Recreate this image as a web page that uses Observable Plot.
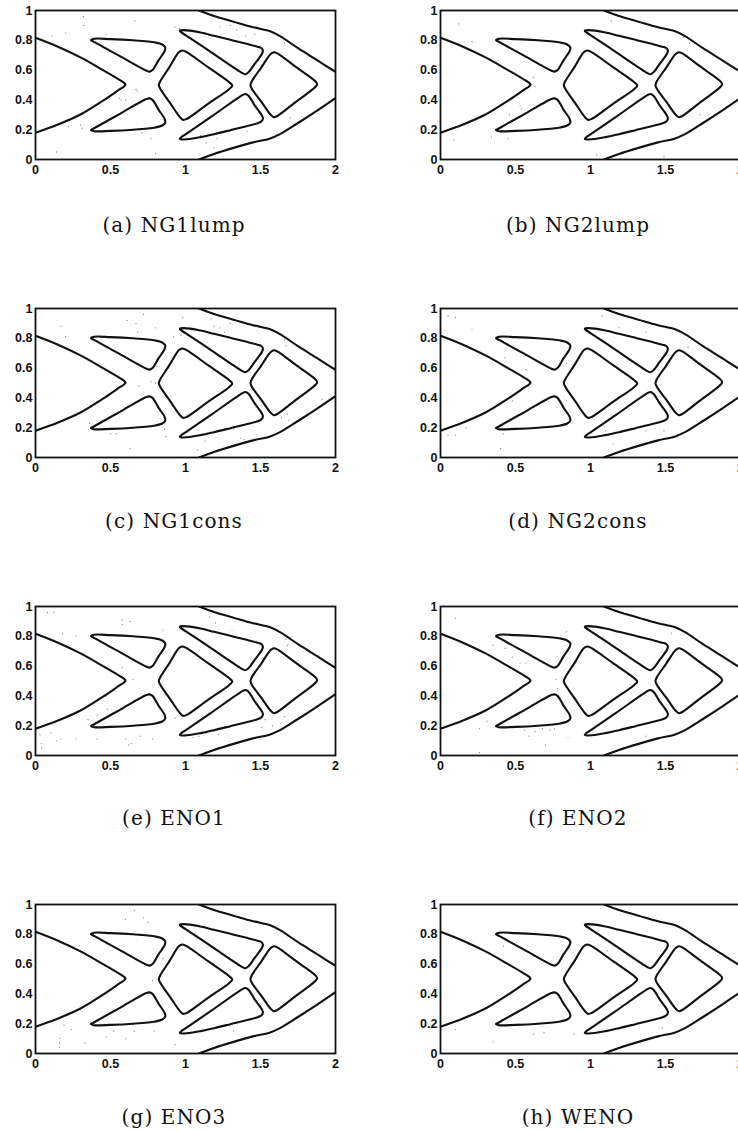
<!DOCTYPE html>
<html>
<head>
<meta charset="utf-8">
<script src="https://cdn.jsdelivr.net/npm/d3@7"></script>
<script src="https://cdn.jsdelivr.net/npm/@observablehq/plot@0.6"></script>
<style>
html, body { margin: 0; padding: 0; background: #fff; }
#page { position: relative; width: 738px; height: 1131px; overflow: hidden; background: #fff; }
.panel { position: absolute; width: 345px; height: 184px; }
.panel svg { max-width: none !important; }
.cap { position: absolute; font-family: "DejaVu Serif", "Liberation Serif", serif; font-size: 20px; letter-spacing: 1.1px;
       color: #111; white-space: nowrap; transform: translate(-50%, -50%); line-height: 1; }
</style>
</head>
<body>
<div id="page"></div>
<script>
// ---- axis ticks ----
const xTicks = [0, 0.5, 1, 1.5, 2];
const xTickLabels = ["0", "0.5", "1", "1.5", "2"];
const yTicks = [0, 0.2, 0.4, 0.6, 0.8, 1];
const yTickLabels = ["0", "0.2", "0.4", "0.6", "0.8", "1"];

// ---- panel captions ----
const panelLabels = ["(a) NG1lump", "(b) NG2lump", "(c) NG1cons", "(d) NG2cons",
                     "(e) ENO1", "(f) ENO2", "(g) ENO3", "(h) WENO"];

// ---- zero level-set contours (x, y in domain units) ----
const leftBranch = [[0,0.817],[0.15,0.757],[0.30,0.685],[0.45,0.60],[0.56,0.535],[0.59,0.515],[0.60,0.503],[0.59,0.49],[0.56,0.47],[0.45,0.395],[0.30,0.302],[0.15,0.235],[0,0.18]];
const topBranch = [[1.09,1.0],[1.19,0.963],[1.32,0.925],[1.45,0.888],[1.56,0.862],[1.63,0.828],[1.75,0.747],[1.88,0.665],[2.0,0.588]];
const bottomBranch = [[1.09,0.0],[1.19,0.037],[1.32,0.078],[1.45,0.115],[1.56,0.14],[1.63,0.17],[1.75,0.245],[1.88,0.33],[2.0,0.412]];
const holeUL = [[0.37,0.80],[0.39,0.81],[0.50,0.808],[0.65,0.80],[0.80,0.785],[0.845,0.772],[0.865,0.752],[0.862,0.73],[0.82,0.665],[0.78,0.60],[0.762,0.59],[0.74,0.596],[0.56,0.695],[0.40,0.784],[0.38,0.795]];
const holeLL = [[0.37,0.198],[0.39,0.19],[0.50,0.192],[0.65,0.20],[0.80,0.215],[0.845,0.228],[0.865,0.248],[0.862,0.27],[0.82,0.335],[0.78,0.40],[0.758,0.41],[0.735,0.404],[0.56,0.305],[0.40,0.215],[0.38,0.203]];
const holeCenter = [[0.955,0.72],[0.978,0.732],[1.005,0.722],[1.148,0.621],[1.29,0.52],[1.312,0.497],[1.29,0.472],[1.15,0.373],[1.01,0.273],[0.985,0.266],[0.965,0.282],[0.898,0.378],[0.832,0.475],[0.822,0.50],[0.832,0.525],[0.894,0.622]];
const holeUR = [[0.99,0.868],[1.10,0.852],[1.19,0.83],[1.30,0.803],[1.40,0.778],[1.48,0.757],[1.505,0.748],[1.516,0.73],[1.51,0.71],[1.46,0.64],[1.42,0.585],[1.40,0.572],[1.38,0.58],[1.17,0.721],[1.00,0.835],[0.97,0.855],[0.962,0.864]];
const holeLR = [[0.99,0.134],[1.10,0.15],[1.19,0.17],[1.30,0.197],[1.40,0.222],[1.48,0.243],[1.505,0.255],[1.516,0.275],[1.51,0.295],[1.46,0.365],[1.42,0.428],[1.40,0.44],[1.38,0.432],[1.17,0.286],[1.00,0.169],[0.97,0.148],[0.962,0.138]];
const holeRight = [[1.568,0.708],[1.59,0.72],[1.612,0.712],[1.736,0.621],[1.86,0.53],[1.878,0.505],[1.86,0.482],[1.736,0.387],[1.612,0.292],[1.59,0.284],[1.57,0.298],[1.506,0.387],[1.442,0.475],[1.433,0.50],[1.442,0.525],[1.505,0.617]];

const openCurves = [leftBranch, topBranch, bottomBranch];
const closedCurves = [holeUL, holeLL, holeCenter, holeUR, holeLR, holeRight];

// ---- stray specks seen in each panel ----
const specksA = [[0.11,0.83],[0.20,0.85],[0.32,0.96],[0.32,0.90],[0.47,0.84],[0.66,0.93],[0.30,0.23],[0.31,0.21],[0.22,0.22],[0.56,0.41],[0.57,0.40],[0.60,0.40],[0.67,0.47],[0.68,0.46],[0.93,0.89],[0.96,0.88],[1.23,0.89],[1.30,0.90],[1.34,0.87],[1.40,0.83],[1.46,0.84],[1.14,0.11],[1.19,0.08],[1.21,0.14],[1.10,0.16],[0.71,0.18],[0.77,0.14],[0.80,0.04],[0.14,0.05],[1.66,0.78],[1.70,0.28],[1.41,0.19],[1.59,0.28]];
const specksB = [[0.12,0.91],[0.21,0.79],[0.62,0.55],[0.63,0.49],[0.53,0.36],[0.54,0.34],[0.46,0.30],[0.34,0.15],[0.09,0.13],[0.45,0.14],[1.14,0.93],[1.62,0.82],[1.66,0.78],[1.73,0.30],[1.04,0.03],[1.49,0.02]];
const specksC = [[0.17,0.88],[0.20,0.81],[0.61,0.92],[0.67,0.90],[0.72,0.96],[0.68,0.84],[0.80,0.87],[0.92,0.81],[0.97,0.82],[0.98,0.94],[1.17,0.93],[1.19,0.88],[1.23,0.87],[1.26,0.84],[1.30,0.90],[1.46,0.88],[1.66,0.79],[1.67,0.75],[0.77,0.51],[0.80,0.50],[0.81,0.61],[0.69,0.48],[0.63,0.06],[0.54,0.16],[0.50,0.16],[0.36,0.23],[0.86,0.19],[0.87,0.14],[1.01,0.17],[1.13,0.11],[1.32,0.19],[1.37,0.13],[1.39,0.12],[1.64,0.27],[1.68,0.29],[1.69,0.25],[1.91,0.39],[1.08,0.05]];
const specksD = [[0.05,0.95],[0.10,0.94],[0.21,0.86],[0.43,0.67],[0.48,0.38],[0.57,0.59],[0.84,0.63],[0.84,0.38],[1.08,0.95],[1.19,0.87],[1.37,0.84],[1.65,0.74],[1.49,0.18],[1.37,0.18],[1.10,0.18],[1.15,0.09],[0.98,0.16],[0.42,0.16],[0.40,0.06],[0.10,0.15],[0.05,0.15],[0.17,0.20]];
const specksE = [[0.08,0.96],[0.12,0.96],[0.58,0.91],[0.58,0.88],[0.63,0.90],[0.18,0.82],[0.27,0.80],[0.85,0.84],[0.58,0.59],[0.65,0.51],[0.47,0.40],[0.48,0.31],[0.41,0.27],[0.35,0.24],[0.03,0.14],[0.04,0.08],[0.04,0.05],[0.10,0.15],[0.14,0.10],[0.17,0.11],[0.27,0.11],[0.41,0.11],[0.60,0.11],[0.62,0.07],[0.64,0.08],[0.70,0.13],[0.78,0.11],[0.93,0.25],[1.00,0.13],[1.05,0.12],[1.09,0.13],[1.14,0.15],[1.22,0.14],[1.16,0.93],[1.20,0.89],[1.31,0.84],[1.67,0.78],[1.68,0.74],[1.53,0.24],[1.51,0.19],[1.58,0.20],[1.66,0.26]];
const specksF = [[0.10,0.92],[0.35,0.74],[0.43,0.72],[0.48,0.66],[0.53,0.62],[0.57,0.62],[0.77,0.51],[0.78,0.45],[0.84,0.83],[0.31,0.23],[0.26,0.18],[0.56,0.17],[0.59,0.13],[0.63,0.16],[0.68,0.18],[0.73,0.17],[0.76,0.18],[0.70,0.07],[0.85,0.12],[1.37,0.13],[1.54,0.82],[0.26,0.02]];
const specksG = [[0.60,0.90],[0.66,0.96],[0.72,0.91],[0.75,0.88],[0.29,0.72],[0.19,0.19],[0.24,0.16],[0.16,0.10],[0.16,0.07],[0.16,0.04],[0.33,0.07],[0.47,0.11],[0.52,0.15],[0.60,0.10],[0.66,0.15],[0.79,0.15],[0.93,0.06],[1.32,0.15],[0.85,0.64],[0.78,0.49],[1.30,0.56]];
const specksH = [[0.10,0.16],[0.35,0.08],[0.62,0.13],[0.69,0.14],[0.89,0.13],[1.11,0.69],[1.48,0.17],[0.42,0.72]];
const panelSpecks = [specksA, specksB, specksC, specksD, specksE, specksF, specksG, specksH];

// ---- layout ----
const colLeft = [0, 405];
const rowTop = [0, 298, 596, 894];
const capX = [174, 578];
const capY = [225, 521, 818, 1117];

const page = document.getElementById("page");

function makePanel(specks) {
  const marks = [
    Plot.dot(specks, {x: d => d[0], y: d => d[1], r: 0.7, fill: "#777", fillOpacity: 0.8, stroke: null}),
    ...openCurves.map(c => Plot.line(c, {x: d => d[0], y: d => d[1], stroke: "#111", strokeWidth: 2.1, curve: "catmull-rom", clip: true})),
    ...closedCurves.map(c => Plot.line(c, {x: d => d[0], y: d => d[1], stroke: "#111", strokeWidth: 2.1, curve: "catmull-rom-closed", clip: true})),
    Plot.frame({stroke: "#111", strokeWidth: 1.8}),
    Plot.axisX({ticks: xTicks, tickSize: 0, tickPadding: 6, label: null,
                tickFormat: d => xTickLabels[xTicks.indexOf(d)]}),
    Plot.axisY({ticks: yTicks, tickSize: 0, tickPadding: 3, label: null,
                tickFormat: d => yTickLabels[yTicks.indexOf(d)]})
  ];
  return Plot.plot({
    width: 345, height: 184,
    marginLeft: 35, marginRight: 10, marginTop: 10, marginBottom: 25,
    x: {domain: [0, 2]},
    y: {domain: [0, 1]},
    style: {fontFamily: "'Liberation Sans', Arial, sans-serif", fontSize: "12.5px", fontWeight: "bold", color: "#111", background: "transparent", maxWidth: "none"},
    marks
  });
}

panelLabels.forEach((lab, i) => {
  const col = i % 2, row = Math.floor(i / 2);
  const svg = makePanel(panelSpecks[i]);
  svg.style.maxWidth = "none";
  const wrap = document.createElement("div");
  wrap.className = "panel";
  wrap.style.left = colLeft[col] + "px";
  wrap.style.top = rowTop[row] + "px";
  wrap.appendChild(svg);
  page.appendChild(wrap);
  const cap = document.createElement("div");
  cap.className = "cap";
  cap.style.left = capX[col] + "px";
  cap.style.top = capY[row] + "px";
  cap.textContent = lab;
  page.appendChild(cap);
});
</script>
</body>
</html>
